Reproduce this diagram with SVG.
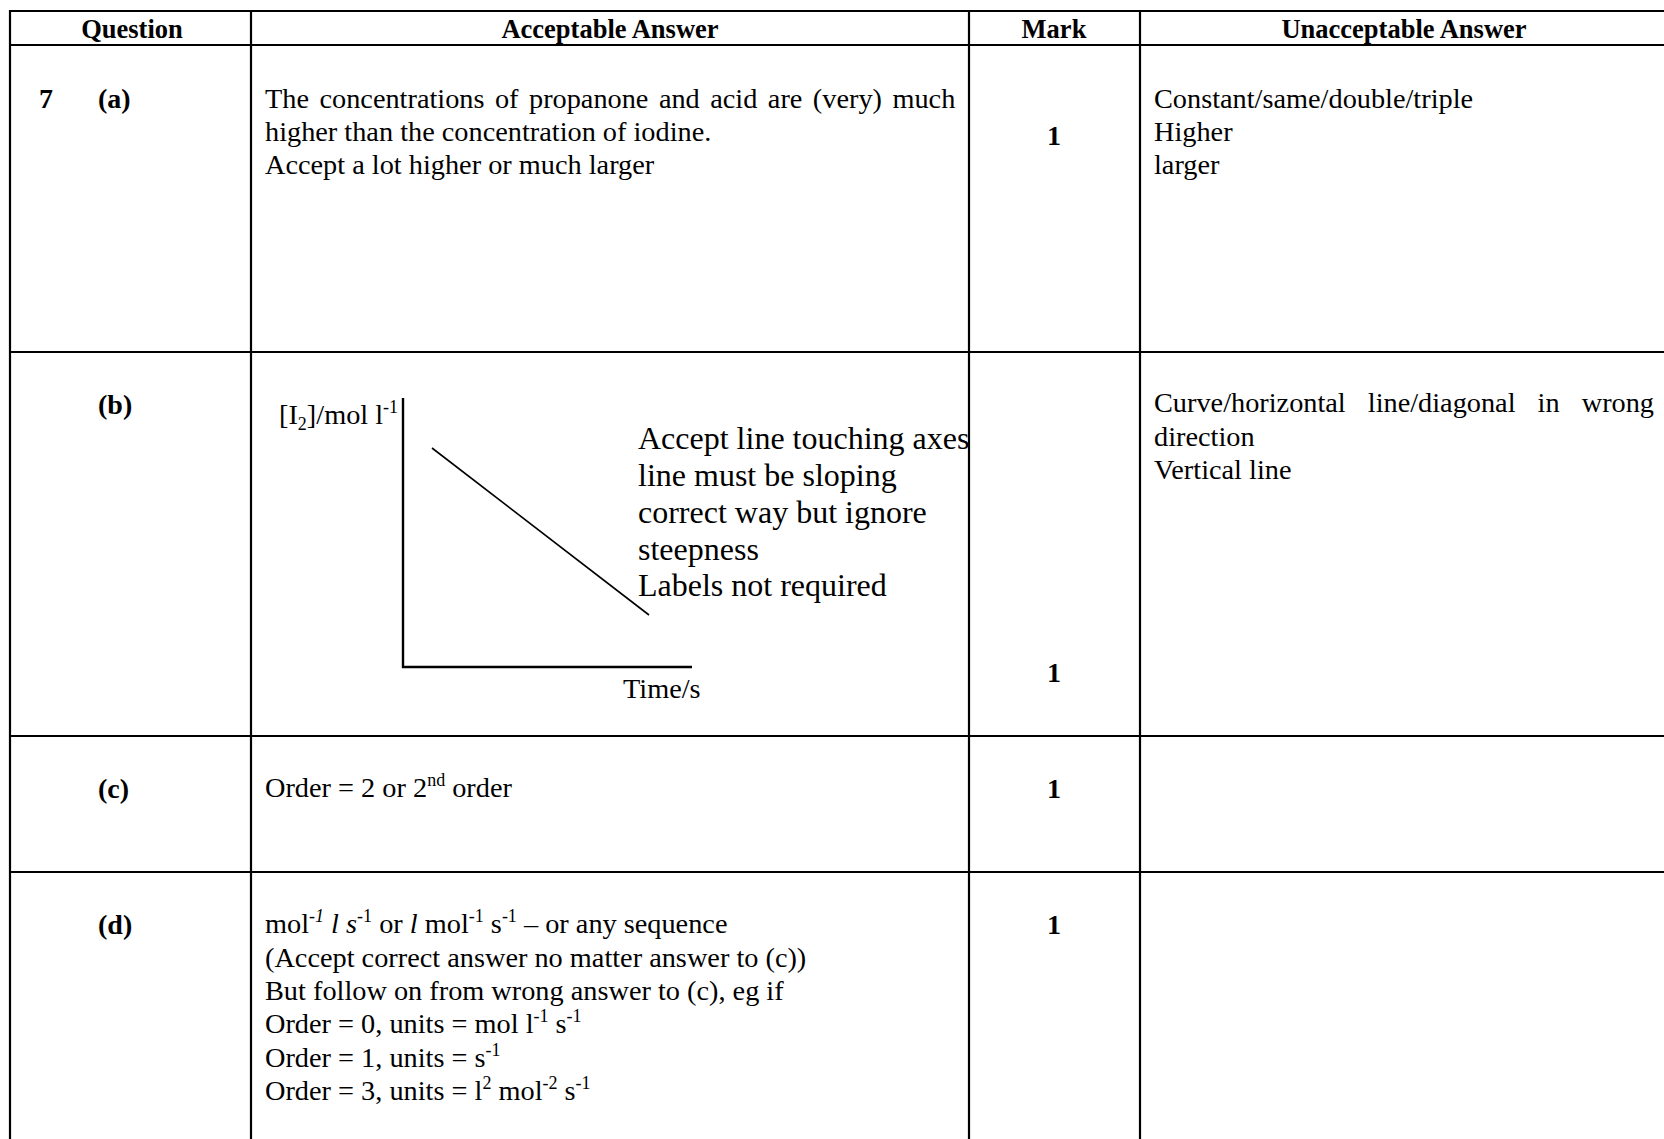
<svg xmlns="http://www.w3.org/2000/svg" width="1664" height="1139" viewBox="0 0 1664 1139">
<style>
text{font-family:"Liberation Serif","Times New Roman",serif;fill:#000;font-size:28.3px}
.b{font-weight:bold;font-size:28px}
.h{font-weight:bold;font-size:26.5px;text-anchor:middle}
.m{font-weight:bold;font-size:28px;text-anchor:middle}
.big{font-size:32px}
.sup{font-size:18px}
.i{font-style:italic}
.grid line{stroke:#000;stroke-width:2.2}
.ax{stroke:#000;stroke-width:2.4}
.dg{stroke:#000;stroke-width:1.6}
</style>
<rect width="1664" height="1139" fill="#fff"/>
<g id="grid" class="grid">
<line x1="9" y1="11" x2="1664" y2="11"/>
<line x1="9" y1="45" x2="1664" y2="45"/>
<line x1="9" y1="352" x2="1664" y2="352"/>
<line x1="9" y1="736" x2="1664" y2="736"/>
<line x1="9" y1="872" x2="1664" y2="872"/>
<line x1="10" y1="10" x2="10" y2="1139"/>
<line x1="251" y1="10" x2="251" y2="1139"/>
<line x1="969" y1="10" x2="969" y2="1139"/>
<line x1="1140" y1="10" x2="1140" y2="1139"/>
</g>
<g id="header">
<text class="h" x="132" y="38">Question</text>
<text class="h" x="610" y="38">Acceptable Answer</text>
<text class="h" x="1054" y="38">Mark</text>
<text class="h" x="1404" y="38">Unacceptable Answer</text>
</g>
<g id="row-a">
<text class="b" x="39" y="108">7</text>
<text class="b" x="98" y="108">(a)</text>
<text x="265" y="108" word-spacing="3.4">The concentrations of propanone and acid are (very) much</text>
<text x="265" y="141">higher than the concentration of iodine.</text>
<text x="265" y="174">Accept a lot higher or much larger</text>
<text class="m" x="1054" y="145">1</text>
<text x="1154" y="108">Constant/same/double/triple</text>
<text x="1154" y="141">Higher</text>
<text x="1154" y="174">larger</text>
</g>
<g id="row-b">
<text class="b" x="98" y="414">(b)</text>
<g id="graph">
<text x="279" y="424">[I<tspan class="sup" dy="6">2</tspan><tspan dy="-6">]/mol l</tspan><tspan class="sup" dy="-11">-1</tspan></text>
<line class="ax" x1="403" y1="398" x2="403" y2="668"/>
<line class="ax" x1="402" y1="667" x2="692" y2="667"/>
<line class="dg" x1="432" y1="448" x2="649" y2="615"/>
<text x="623" y="698">Time/s</text>
<text class="big" x="638" y="449">Accept line touching axes</text>
<text class="big" x="638" y="486">line must be sloping</text>
<text class="big" x="638" y="523">correct way but ignore</text>
<text class="big" x="638" y="560">steepness</text>
<text class="big" x="638" y="596">Labels not required</text>
</g>
<text class="m" x="1054" y="682">1</text>
<text x="1154" y="412" word-spacing="15">Curve/horizontal line/diagonal in wrong</text>
<text x="1154" y="446">direction</text>
<text x="1154" y="479">Vertical line</text>
</g>
<g id="row-c">
<text class="b" x="98" y="798">(c)</text>
<text x="265" y="797">Order = 2 or 2<tspan class="sup" dy="-11">nd</tspan><tspan dy="11"> order</tspan></text>
<text class="m" x="1054" y="798">1</text>
</g>
<g id="row-d">
<text class="b" x="98" y="934">(d)</text>
<text x="265" y="933">mol<tspan class="sup i" dy="-11">-1</tspan><tspan dy="11"> </tspan><tspan class="i">l s</tspan><tspan class="sup" dy="-11">-1</tspan><tspan dy="11"> or </tspan><tspan class="i">l</tspan><tspan> mol</tspan><tspan class="sup" dy="-11">-1</tspan><tspan dy="11"> s</tspan><tspan class="sup" dy="-11">-1</tspan><tspan dy="11"> – or any sequence</tspan></text>
<text x="265" y="966.5">(Accept correct answer no matter answer to (c))</text>
<text x="265" y="1000">But follow on from wrong answer to (c), eg if</text>
<text x="265" y="1033">Order = 0, units = mol l<tspan class="sup" dy="-11">-1</tspan><tspan dy="11"> s</tspan><tspan class="sup" dy="-11">-1</tspan></text>
<text x="265" y="1066.5">Order = 1, units = s<tspan class="sup" dy="-11">-1</tspan></text>
<text x="265" y="1100">Order = 3, units = l<tspan class="sup" dy="-11">2</tspan><tspan dy="11"> mol</tspan><tspan class="sup" dy="-11">-2</tspan><tspan dy="11"> s</tspan><tspan class="sup" dy="-11">-1</tspan></text>
<text class="m" x="1054" y="934">1</text>
</g>
</svg>
